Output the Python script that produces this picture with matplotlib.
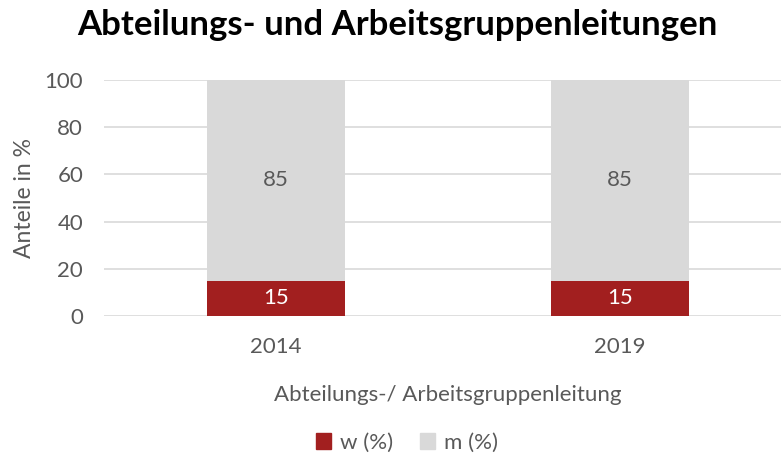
import matplotlib.pyplot as plt
from matplotlib.patches import Patch

# Daten
jahre = ['2014', '2019']
w_anteil = [15, 15]
m_anteil = [85, 85]

rot = '#A21F1F'
grau = '#D9D9D9'
textgrau = '#595959'

plt.rcParams['font.family'] = ['Lato', 'DejaVu Sans']

fig = plt.figure(figsize=(7.81, 4.54), dpi=100)
# Achse laeuft rechts ueber den Bildrand hinaus (wie im Original)
ax = fig.add_axes([104 / 781, 1 - 316 / 454, 688 / 781, 236 / 454])

x = list(range(len(jahre)))
ax.bar(x, w_anteil, width=0.4, color=rot, zorder=3)
ax.bar(x, m_anteil, width=0.4, bottom=w_anteil, color=grau, zorder=3)

for i in x:
    ax.text(i, w_anteil[i] / 2, str(w_anteil[i]), ha='center', va='center',
            color='white', fontsize=16, zorder=4)
    ax.text(i, w_anteil[i] + m_anteil[i] / 2, str(m_anteil[i]), ha='center', va='center',
            color=textgrau, fontsize=16, zorder=4)

ax.set_xlim(-0.5, 1.5)
ax.set_ylim(0, 100)
ax.set_yticks(range(0, 101, 20))
ax.set_xticks(x)
ax.set_xticklabels(jahre)
ax.grid(axis='y', color=grau, linewidth=1.2, zorder=0)
for s in ax.spines.values():
    s.set_visible(False)
ax.tick_params(axis='both', length=0, labelsize=16, labelcolor=textgrau)
ax.tick_params(axis='y', pad=15)
ax.tick_params(axis='x', pad=15)

ax.set_ylabel('Anteile in %', fontsize=16.5, color=textgrau, labelpad=7)
ax.set_xlabel('Abteilungs-/ Arbeitsgruppenleitung', fontsize=16, color=textgrau, labelpad=20)

fig.text(397 / 781, 1 - 25 / 454, 'Abteilungs- und Arbeitsgruppenleitungen', ha='center', va='center',
         fontsize=25, fontweight='bold', color='black')

handles = [Patch(color=rot, label='w (%)'), Patch(color=grau, label='m (%)')]
fig.legend(handles=handles, loc='center', bbox_to_anchor=(407 / 781, 1 - 443 / 454), ncol=2,
           frameon=False, fontsize=16, handlelength=0.7, handleheight=0.7, handletextpad=0.4,
           columnspacing=1.2, labelcolor=textgrau)

fig.savefig('out.png', dpi=100)
